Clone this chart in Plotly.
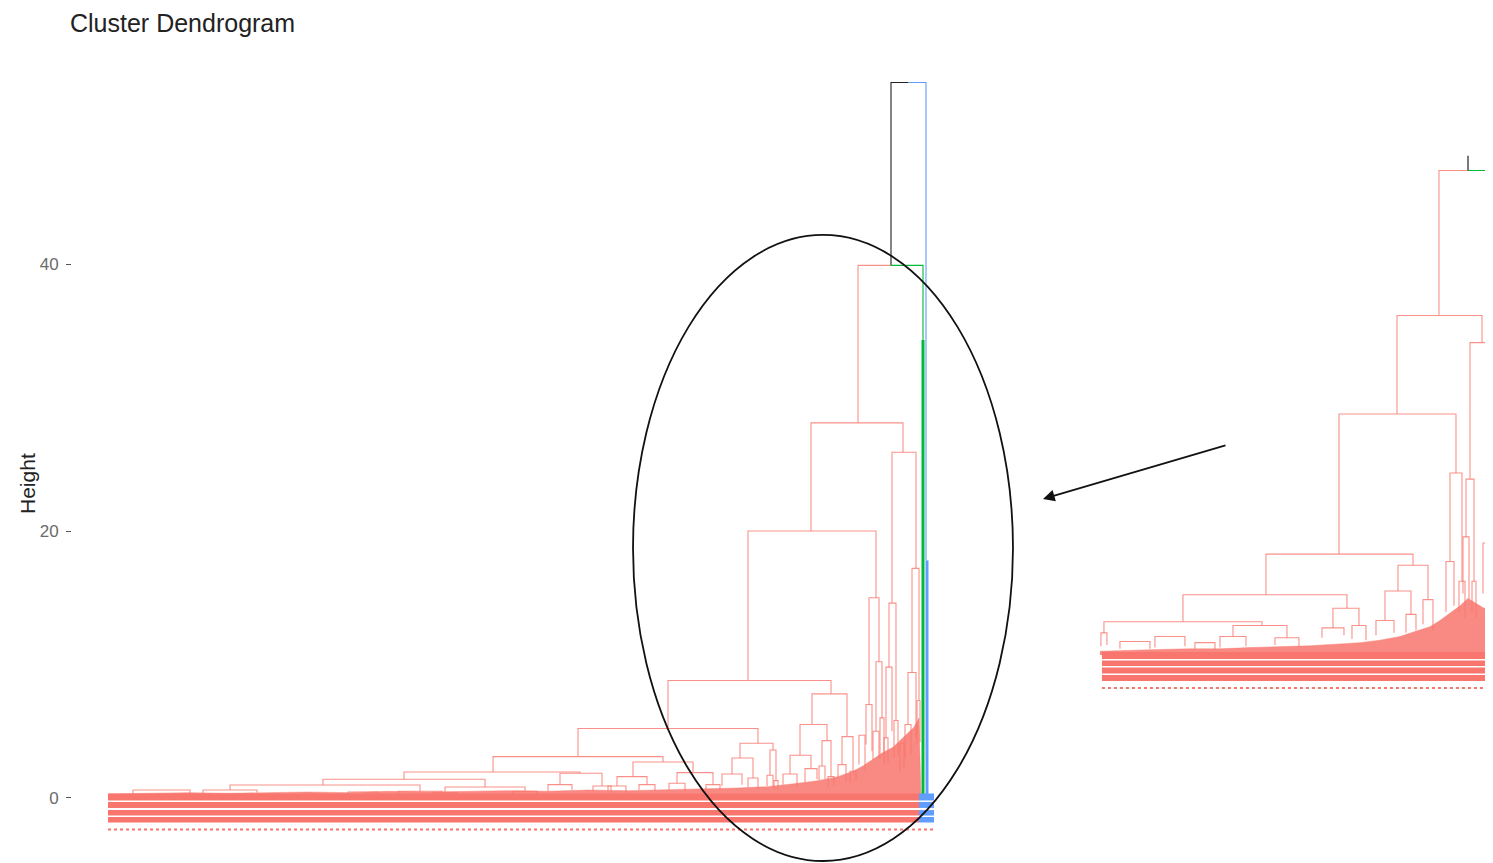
import plotly.graph_objects as go

# ================= MAIN DENDROGRAM (x = leaf position, y = height) =================
# merges above the cluster cut (coloured per half)
top_left = [783, 750]
top_right = [818, 815]
top_height = [53.6, 39.9]
top_hleft = [39.9, 28.1]
top_hright = [17.8, 34.3]
top_col_left = ["k", "r"]
top_col_right = ["b", "g"]

# merges inside the red cluster
red_left = [703, 784, 781, 804, 640, 761, 560, 470, 704, 692, 734, 682, 714, 632, 624,
            662, 385, 525, 296, 215, 122, 337, 452, 569, 509, 614, 640, 675, 697, 730,
            742, 711, 720, 659, 666, 95, 290, 25, 240, 325, 405, 440, 485, 500, 531,
            561, 598, 778, 786, 800, 809, 758, 768, 751, 792, 772, 765, 797, 776]
red_right = [795, 808, 788, 811, 768, 771, 723, 650, 739, 719, 745, 703, 723, 665, 645,
             668, 555, 585, 472, 377, 312, 417, 494, 605, 539, 634, 650, 689, 709, 738,
             748, 717, 726, 665, 670, 149, 334, 82, 270, 349, 429, 464, 503, 518, 547,
             577, 612, 784, 790, 808, 812, 764, 774, 757, 796, 776, 771, 803, 780]
red_height = [28.1, 25.9, 14.6, 17.2, 20.0, 15.0, 8.8, 5.2, 7.8, 5.5, 4.6, 3.2, 4.3, 4.1, 3.0,
              3.6, 3.1, 2.7, 1.95, 1.4, 0.97, 0.82, 1.85, 1.9, 1.6, 1.8, 1.5, 1.8, 2.2, 2.5,
              2.0, 2.4, 1.6, 1.7, 1.3, 0.6, 0.5, 0.6, 0.45, 0.4, 0.5, 1.0, 0.9, 0.9, 1.0,
              1.1, 1.0, 9.8, 5.8, 9.4, 7.3, 7.0, 10.2, 4.7, 4.1, 6.0, 5.0, 5.5, 4.5]
red_hleft = [20.0, 14.6, 9.8, 9.4, 8.8, 7.0, 5.2, 3.1, 5.5, 3.2, 2.5, 1.8, 2.4, 3.0, 1.8,
             1.7, 1.95, 1.6, 1.4, 0.97, 0.6, 0.4, 1.0, 1.1, 0.9, 0.9, 0.8, 1.0, 1.2, 1.5,
             1.2, 1.3, 0.8, 0.9, 0.7, 0.35, 0.3, 0.3, 0.25, 0.2, 0.25, 0.5, 0.5, 0.5, 0.6,
             0.6, 0.5, 4.5, 3.0, 5.5, 4.0, 4.0, 5.0, 2.5, 2.0, 3.0, 2.8, 3.0, 2.5]
red_hright = [25.9, 17.2, 5.8, 7.3, 15.0, 10.2, 7.8, 4.1, 4.6, 4.3, 2.0, 2.2, 1.6, 3.6, 1.5,
              1.3, 2.7, 1.9, 1.85, 0.82, 0.5, 0.5, 0.9, 1.0, 1.0, 1.0, 0.7, 0.9, 1.4, 1.2,
              1.3, 1.4, 0.9, 0.8, 0.6, 0.4, 0.35, 0.2, 0.2, 0.2, 0.3, 0.6, 0.4, 0.4, 0.5,
              0.5, 0.6, 5.0, 3.2, 4.5, 4.2, 3.5, 6.0, 2.0, 2.2, 3.2, 3.0, 3.3, 2.6]

# dense columns of the small green and blue clusters
green_x, green_top = 815, 34.3
blue_x, blue_top = 818, 17.8

# envelope of the dense leaf-level branching
env_x = [0, 40, 80, 120, 160, 200, 240, 280, 320, 360, 400, 440, 480, 520, 560, 600, 630,
         660, 690, 710, 730, 745, 755, 765, 775, 785, 792, 800, 806, 811, 813]
env_h = [0.3, 0.35, 0.4, 0.35, 0.4, 0.45, 0.4, 0.5, 0.45, 0.5, 0.55, 0.5, 0.6, 0.55, 0.6,
         0.7, 0.75, 0.85, 1.1, 1.3, 1.6, 2.0, 2.4, 2.9, 3.4, 3.8, 4.3, 4.8, 5.3, 6.0, 0.0]

# leaf label rows (drawn as dense strips)
label_rows = [0.075, -0.52, -1.11, -1.63]
label_dots = -2.36
label_red_end = 811
label_end = 826

# ================= INSET (zoomed view) =================
in_top_left, in_top_right, in_top_height = 339, 397, 39.4
in_top_hleft, in_top_hright = 27.6, 25.0
in_root_stem_top = 40.6

in_left = [297, 370, 239, 350, 366, 386, 166, 298, 285, 323, 83, 233, 4, 133, 346, 276,
           306, 222, 252, 1, 120, 175, 20, 55, 95, 363, 372, 383, 391, 359]
in_right = [382, 390, 356, 362, 374, 393, 313, 328, 311, 333, 247, 259, 162, 187, 354, 294,
            316, 244, 266, 7, 146, 199, 50, 85, 115, 369, 376, 389, 395, 365]
in_height = [27.6, 25.4, 19.6, 14.8, 14.3, 17.0, 8.2, 7.3, 5.2, 4.5, 4.9, 3.8, 2.7, 2.4, 7.6,
             2.8, 3.3, 2.2, 2.4, 1.8, 1.5, 1.4, 1.1, 1.5, 1.0, 9.6, 6.0, 9.1, 8.0, 6.0]
in_hleft = [19.6, 14.3, 8.2, 7.6, 9.6, 9.1, 4.9, 5.2, 2.8, 2.5, 2.7, 2.2, 1.8, 1.5, 3.5,
            1.6, 1.8, 1.4, 1.3, 0.7, 0.6, 0.8, 0.5, 0.6, 0.5, 5.0, 3.5, 5.0, 4.0, 3.5]
in_hright = [25.4, 17.0, 14.8, 6.0, 6.0, 8.0, 7.3, 4.5, 3.3, 2.0, 3.8, 2.4, 2.4, 1.4, 4.0,
             1.8, 2.0, 1.6, 1.2, 0.8, 0.7, 0.7, 0.5, 0.7, 0.4, 4.5, 3.0, 4.0, 4.0, 3.0]

in_env_x = [0, 30, 60, 90, 120, 150, 180, 210, 240, 260, 280, 300, 315, 330, 340, 350, 360,
            368, 376, 384, 393]
in_env_h = [0.3, 0.4, 0.45, 0.5, 0.5, 0.6, 0.65, 0.75, 0.9, 1.0, 1.2, 1.5, 1.9, 2.3, 2.8,
            3.4, 4.0, 4.6, 4.2, 3.8, 3.9]

in_label_rows = [-0.04, -0.67, -1.26, -1.87]
in_label_dots = -2.68
in_label_start, in_label_end = 2, 393

# ================= drawing =================
COL = {"r": "rgba(248,118,109,0.8)", "g": "#00BA38", "b": "#619CFF", "k": "#222222"}
RED_SOLID = "#F8766D"


def collect(store, xl, xr, h, hl, hr, cl, cr):
    xm = (xl + xr) / 2
    xs, ys = store.setdefault(cl, ([], []))
    xs += [xl, xl, xm, None]
    ys += [hl, h, h, None]
    xs, ys = store.setdefault(cr, ([], []))
    xs += [xm, xr, xr, None]
    ys += [h, h, hr, None]


fig = go.Figure()


def add_tree(store, xa, ya):
    for c, (xs, ys) in store.items():
        fig.add_trace(go.Scatter(x=xs, y=ys, mode="lines", xaxis=xa, yaxis=ya,
                                 line=dict(color=COL[c], width=1.1), hoverinfo="skip"))


# ---- main ----
fig.add_trace(go.Scatter(x=env_x, y=env_h, mode="lines", fill="tozeroy",
                         fillcolor="rgba(248,118,109,0.85)",
                         line=dict(color="rgba(248,118,109,0.85)", width=0.5),
                         hoverinfo="skip", xaxis="x", yaxis="y"))
main_store = {}
for i in range(len(top_left)):
    collect(main_store, top_left[i], top_right[i], top_height[i], top_hleft[i],
            top_hright[i], top_col_left[i], top_col_right[i])
for i in range(len(red_left)):
    collect(main_store, red_left[i], red_right[i], red_height[i], red_hleft[i],
            red_hright[i], "r", "r")
add_tree(main_store, "x", "y")

fig.add_trace(go.Scatter(x=[green_x, green_x], y=[green_top, 0], mode="lines",
                         line=dict(color=COL["g"], width=3), hoverinfo="skip"))
fig.add_trace(go.Scatter(x=[blue_x + 1, blue_x + 1], y=[blue_top, 0], mode="lines",
                         line=dict(color=COL["b"], width=3), hoverinfo="skip"))

row_widths = [7, 6, 5.5, 5.5]
for yv, w in zip(label_rows, row_widths):
    fig.add_trace(go.Scatter(x=[0, label_red_end], y=[yv, yv], mode="lines",
                             line=dict(color=RED_SOLID, width=w), hoverinfo="skip"))
    fig.add_trace(go.Scatter(x=[label_red_end, label_end], y=[yv, yv], mode="lines",
                             line=dict(color=COL["b"], width=w), hoverinfo="skip"))
fig.add_trace(go.Scatter(x=[0, label_end], y=[label_dots, label_dots], mode="lines",
                         line=dict(color=RED_SOLID, width=2, dash="dot"), hoverinfo="skip"))

# ---- inset ----
fig.add_trace(go.Scatter(x=in_env_x, y=in_env_h, mode="lines", fill="tozeroy",
                         fillcolor="rgba(248,118,109,0.85)",
                         line=dict(color="rgba(248,118,109,0.85)", width=0.5),
                         hoverinfo="skip", xaxis="x2", yaxis="y2"))
in_store = {}
collect(in_store, in_top_left, in_top_right, in_top_height, in_top_hleft, in_top_hright,
        "r", "g")
for i in range(len(in_left)):
    collect(in_store, in_left[i], in_right[i], in_height[i], in_hleft[i], in_hright[i],
            "r", "r")
add_tree(in_store, "x2", "y2")
stem_x = (in_top_left + in_top_right) / 2
fig.add_trace(go.Scatter(x=[stem_x, stem_x], y=[in_top_height, in_root_stem_top],
                         mode="lines", line=dict(color=COL["k"], width=1.2),
                         hoverinfo="skip", xaxis="x2", yaxis="y2"))
in_widths = [7, 5.5, 6, 6]
for yv, w in zip(in_label_rows, in_widths):
    fig.add_trace(go.Scatter(x=[in_label_start, in_label_end], y=[yv, yv], mode="lines",
                             line=dict(color=RED_SOLID, width=w), hoverinfo="skip",
                             xaxis="x2", yaxis="y2"))
fig.add_trace(go.Scatter(x=[in_label_start, in_label_end], y=[in_label_dots, in_label_dots],
                         mode="lines", line=dict(color=RED_SOLID, width=2, dash="dot"),
                         hoverinfo="skip", xaxis="x2", yaxis="y2"))

FONT = "Liberation Sans, Arial, sans-serif"
fig.update_layout(
    width=1485, height=855,
    margin=dict(l=64, r=0, t=32, b=0),
    paper_bgcolor="white", plot_bgcolor="white",
    showlegend=False,
    font=dict(family=FONT),
    xaxis=dict(domain=[0, 1], range=[-36, 1385], visible=False, anchor="y"),
    yaxis=dict(domain=[0, 1], range=[-4.87, 56.78], tickvals=[0, 20, 40],
               ticktext=["0", "20", "40"], ticks="outside", ticklen=5,
               tickcolor="#555555", tickwidth=1,
               tickfont=dict(size=17, color="#6b6b6b", family=FONT),
               ticklabelstandoff=4,
               showgrid=False, zeroline=False, showline=False, anchor="x"),
    xaxis2=dict(domain=[0.7234, 1], range=[0, 393], visible=False, anchor="y2"),
    yaxis2=dict(domain=[0.1981, 0.8663], range=[-3.66, 41.06], visible=False, anchor="x2"),
    annotations=[
        dict(text="Cluster Dendrogram", xref="paper", yref="paper", x=-0.002,
             y=1 + 32 / 823, xanchor="left", yanchor="top", showarrow=False,
             borderpad=0, font=dict(size=25, color="#222222", family=FONT)),
        dict(text="Height", xref="paper", yref="paper", x=-0.0317, y=0.4617,
             xanchor="center", yanchor="middle", textangle=-90, showarrow=False,
             font=dict(size=21, color="#222222", family=FONT)),
        dict(text="", xref="paper", yref="paper", x=0.6833, y=0.4423,
             ax=184, ay=-54, showarrow=True, arrowhead=2, arrowsize=1.3,
             arrowwidth=1.8, arrowcolor="#111111"),
    ],
    shapes=[
        dict(type="circle", xref="paper", yref="paper", x0=0.3948, x1=0.6622,
             y0=0.0024, y1=0.7631, line=dict(color="#111111", width=1.8)),
    ],
)

fig.write_html("out.html")
